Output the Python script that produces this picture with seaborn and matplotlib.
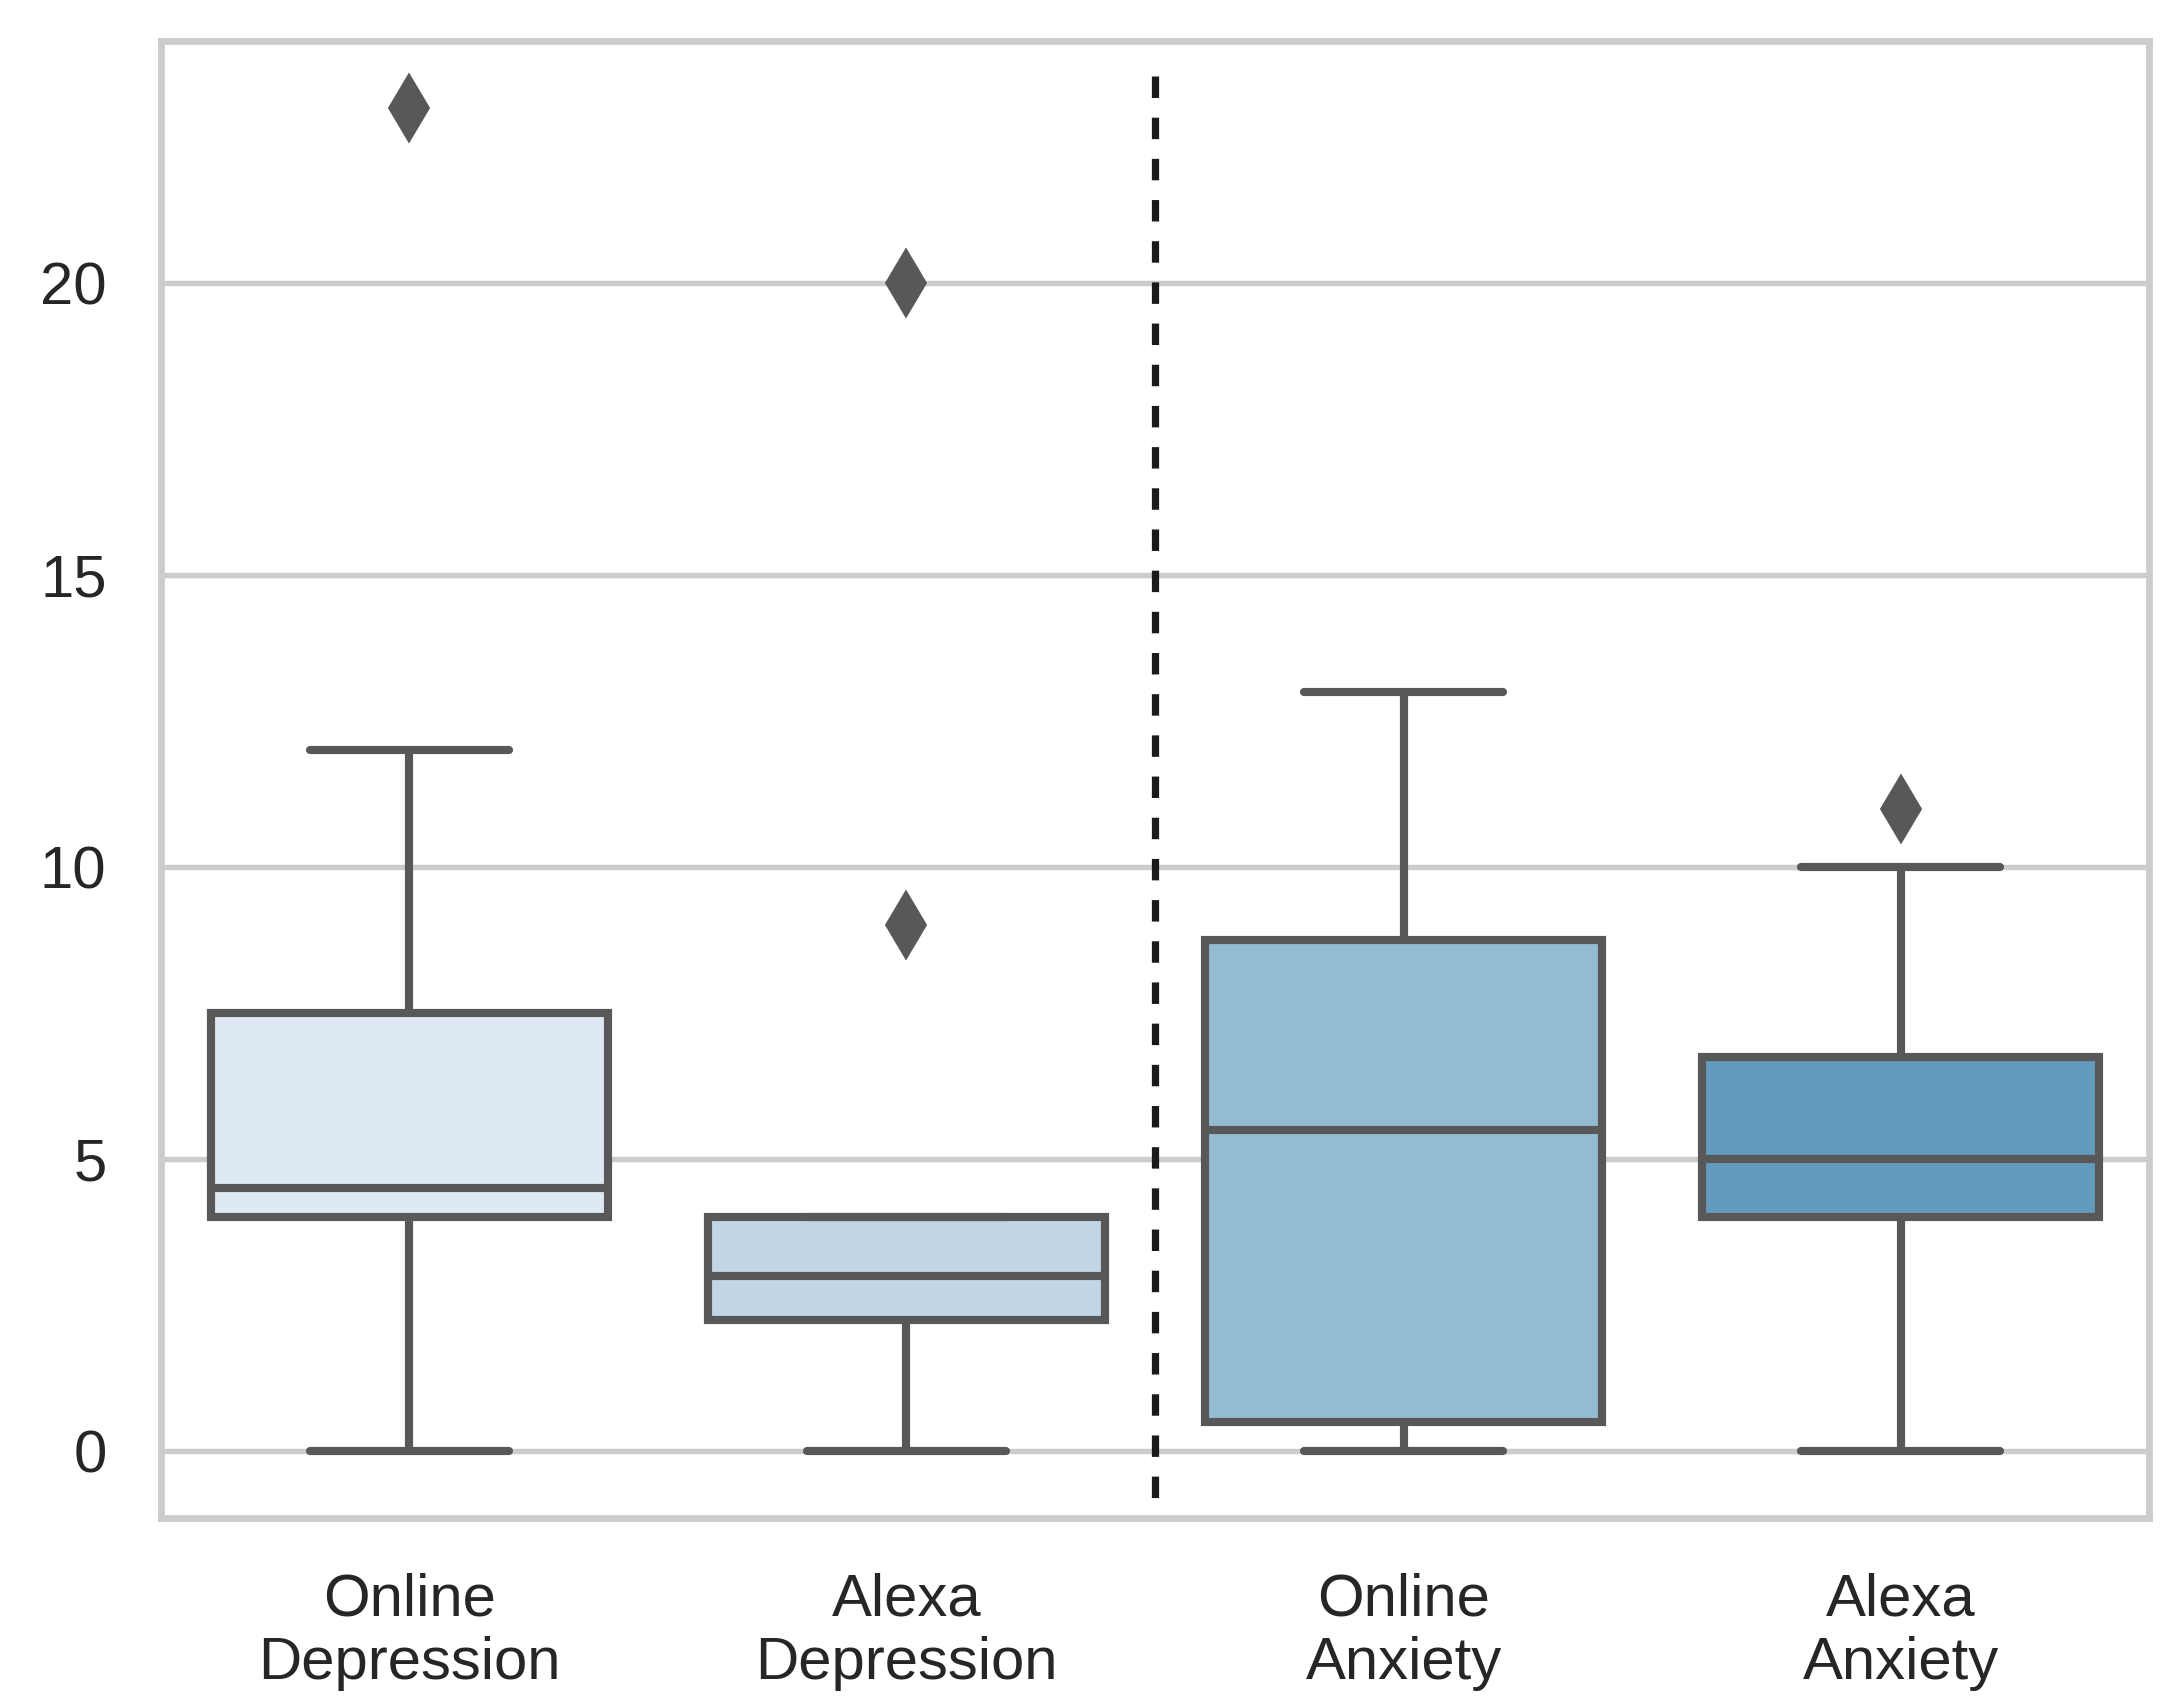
import numpy as np
import pandas as pd
import matplotlib
matplotlib.use("Agg")
import matplotlib.pyplot as plt
import seaborn as sns

# score values per group
online_depression = [0, 4, 4, 4, 4, 5, 6, 8, 12, 23]
alexa_depression = [0, 1, 2, 3, 3, 3, 4, 4, 9, 20]
online_anxiety = [0, 0, 0, 2, 5, 6, 8, 9, 11, 13]
alexa_anxiety = [0, 3, 4, 4, 5, 5, 6, 7, 10, 11]
labels = ["Online\nDepression", "Alexa\nDepression", "Online\nAnxiety", "Alexa\nAnxiety"]

df = pd.DataFrame({
    "group": np.repeat(labels, 10),
    "score": online_depression + alexa_depression + online_anxiety + alexa_anxiety,
})

sns.set_theme(style="whitegrid", context="talk")
plt.rcParams["font.family"] = ["Liberation Sans", "DejaVu Sans"]

DPI = 261
fig = plt.figure(figsize=(2184 / DPI, 1703 / DPI), dpi=DPI)
ax = fig.add_axes([0.0737, 0.1086, 0.9103, 0.8674])

line_col = "#585858"
sns.boxplot(data=df, x="group", y="score", hue="group", legend=False,
            palette=sns.color_palette("Blues")[:4], saturation=0.75,
            linecolor=line_col, linewidth=2.25, ax=ax,
            flierprops=dict(marker="d", markerfacecolor=line_col,
                            markeredgecolor=line_col, markersize=12.5,
                            markeredgewidth=1),
            capprops=dict(solid_capstyle="round"))

lo, hi = df["score"].min(), df["score"].max()
pad = 0.05 * (hi - lo)
ax.set_ylim(lo - pad, hi + pad)
ax.set_xlim(-0.5, 3.5)

# separator between depression and anxiety, drawn top-down
ax.vlines(1.5, 23.55, -0.8, colors="k", linestyles=(0, (2.96, 2.72)), linewidth=2.0)

ax.tick_params(axis="both", pad=plt.rcParams["xtick.major.pad"] + 2.5)
ax.set_xlabel("")
ax.set_ylabel("")
for s in ax.spines.values():
    s.set_visible(True)

fig.savefig("out.png", dpi=DPI)
